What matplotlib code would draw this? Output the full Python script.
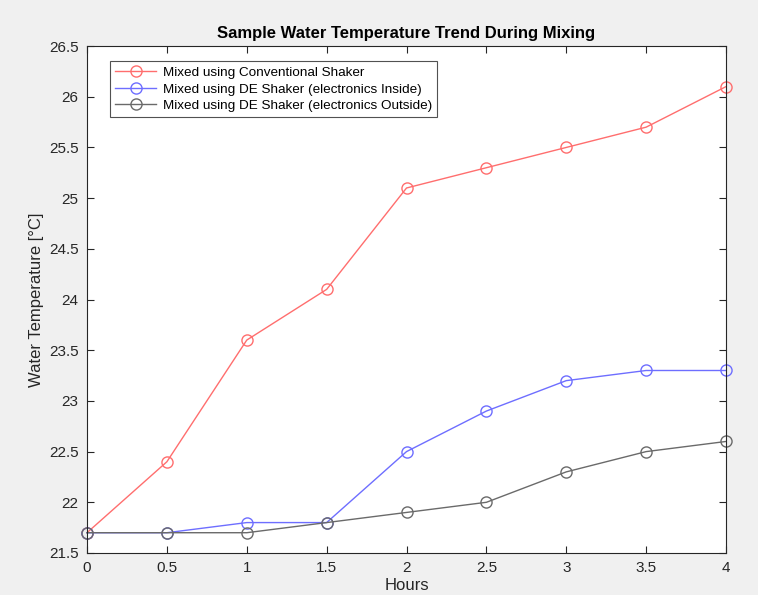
import matplotlib
matplotlib.use('Agg')
import matplotlib.pyplot as plt
import numpy as np

plt.rcParams['font.family'] = ['Liberation Sans', 'DejaVu Sans']

# data
hours = [0, 0.5, 1, 1.5, 2, 2.5, 3, 3.5, 4]
conventional = [21.7, 22.4, 23.6, 24.1, 25.1, 25.3, 25.5, 25.7, 26.1]
de_inside = [21.7, 21.7, 21.8, 21.8, 22.5, 22.9, 23.2, 23.3, 23.3]
de_outside = [21.7, 21.7, 21.7, 21.8, 21.9, 22.0, 22.3, 22.5, 22.6]

labels = ['Mixed using Conventional Shaker',
          'Mixed using DE Shaker (electronics Inside)',
          'Mixed using DE Shaker (electronics Outside)']

fig = plt.figure(figsize=(7.58, 5.95), dpi=100, facecolor='#f0f0f0')
ax = fig.add_axes([0.1148, 0.0706, 0.843, 0.852])

ax.plot(hours, conventional, '-o', color='#ff6e6e', mfc='none', ms=8, lw=1, label=labels[0], clip_on=False)
ax.plot(hours, de_inside, '-o', color='#6e6eff', mfc='none', ms=8, lw=1, label=labels[1], clip_on=False)
ax.plot(hours, de_outside, '-o', color='#6a6a6a', mfc='none', ms=8, lw=1, label=labels[2], clip_on=False)

ax.set_xlim(0, 4)
ax.set_ylim(21.5, 26.5)
ax.set_xticks(np.arange(0, 4.01, 0.5))
ax.set_yticks(np.arange(21.5, 26.51, 0.5))
ax.set_xticklabels(['0', '0.5', '1', '1.5', '2', '2.5', '3', '3.5', '4'])
ax.set_yticklabels(['21.5', '22', '22.5', '23', '23.5', '24', '24.5', '25', '25.5', '26', '26.5'])

ax.tick_params(direction='in', top=True, right=True, labelsize=11, colors='#262626', length=5, pad=6)
for s in ax.spines.values():
    s.set_color('#262626')
    s.set_linewidth(0.8)

ax.set_xlabel('Hours', fontsize=12, color='#262626', labelpad=2)
ax.set_ylabel('Water Temperature [°C]', fontsize=12, color='#262626')
ax.set_title('Sample Water Temperature Trend During Mixing', fontsize=12, fontweight='bold', pad=6)

leg = ax.legend(loc='upper left', bbox_to_anchor=(0.036, 0.97), fontsize=9.7, frameon=True,
                fancybox=False, edgecolor='#262626', handlelength=3, borderaxespad=0,
                labelspacing=0.3, handletextpad=0.5)
leg.get_frame().set_linewidth(0.8)

fig.savefig('out.png', dpi=100, facecolor=fig.get_facecolor())
